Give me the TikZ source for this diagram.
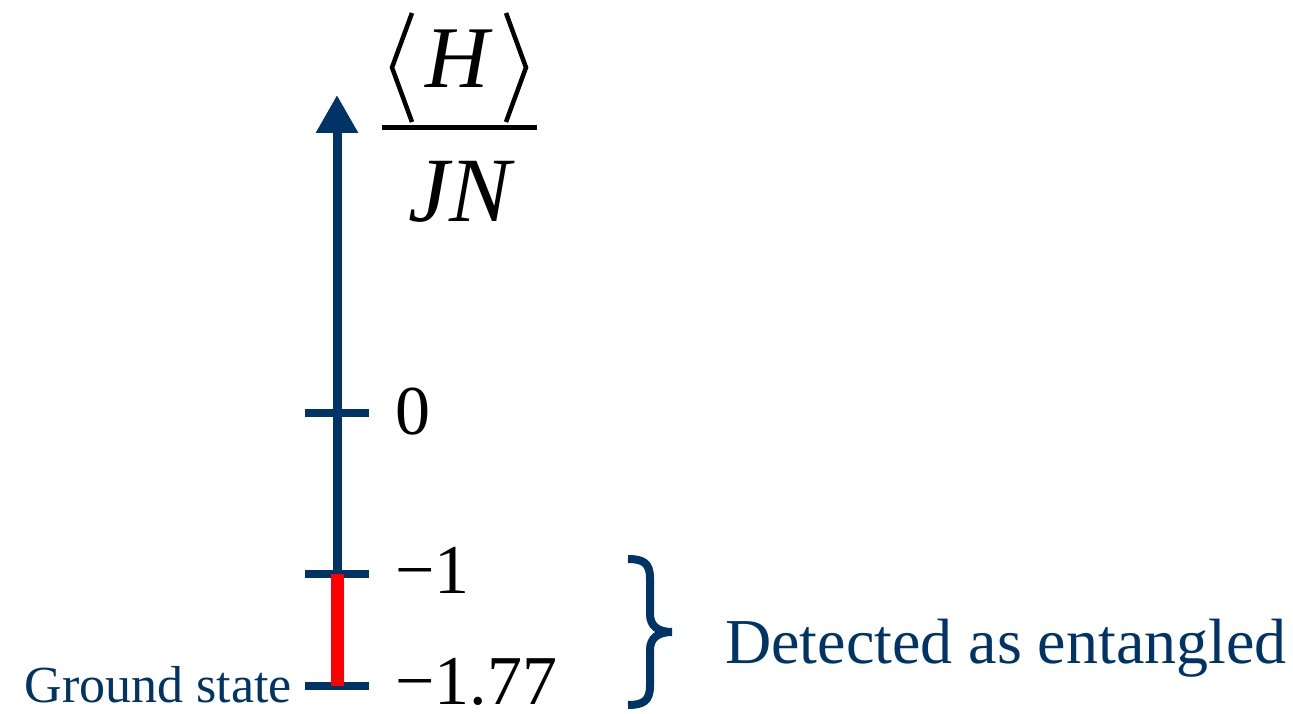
\documentclass[tikz,border=0pt]{standalone}
\usepackage{fontspec}
\setmainfont{Liberation Serif}
\usetikzlibrary{arrows.meta}
\definecolor{navy}{RGB}{0,51,102}
\definecolor{redbar}{RGB}{255,0,0}
\tikzset{
  axisline/.style={navy, line width=9pt, -{Triangle[width=40pt,length=38pt]}},
  tickline/.style={navy, line width=8pt},
  valuelabel/.style={anchor=base west, inner sep=0pt, text depth=0pt, font=\fontsize{70}{70}\selectfont},
  navylabel/.style={inner sep=0pt, text=navy},
  bracket/.style={black, line width=4.5pt, line cap=butt, line join=miter},
}
\begin{document}
\begin{tikzpicture}[x=1pt,y=-1pt]
\useasboundingbox (0,0) rectangle (1293,714);
% axis coordinates
\coordinate (tip) at (337,95);
\coordinate (t0) at (337,413);
\coordinate (t1) at (337,574);
\coordinate (t177) at (337,686);
% axis
\draw[axisline] (t177) -- (tip);
% ticks
\foreach \c in {t0,t1,t177}
  \draw[tickline] ([xshift=-32pt]\c) -- ([xshift=32pt]\c);
% red bar
\draw[redbar, line width=13pt] (t1) -- (t177);
% value labels
\node[valuelabel] (l0) at (395,434) {0};
\node[valuelabel] (l1) at (395,593) {−1};
\node[valuelabel] (l177) at (395,704) {−1.77};
% ground state
\node[navylabel, anchor=base east, font=\fontsize{52}{52}\selectfont] (gs) at (292,702) {Ground state};
% fraction
\node[inner sep=0pt, anchor=base, font=\fontsize{88}{88}\selectfont\itshape] (H) at (457,88) {H};
\node[inner sep=0pt, anchor=base, font=\fontsize{92}{92}\selectfont\itshape] (JN) at (460,222) {JN};
\draw[black, line width=5pt] (382,128) -- (537,128);
\draw[bracket] (412,13) -- (392,67.5) -- (412,122);
\draw[bracket] (506,13) -- (526,67.5) -- (506,122);
% brace
\coordinate (bt) at (628,559);
\coordinate (bm) at (672,632);
\coordinate (bb) at (628,705);
\draw[navy, line width=8pt]
  (bt) .. controls (643,559) and (650,563) .. (650,578)
  -- (650,614) .. controls (650,626) and (658,632) .. (bm)
  .. controls (658,632) and (650,638) .. (650,650)
  -- (650,686) .. controls (650,701) and (643,705) .. (bb);
\node[navylabel, anchor=base west, font=\fontsize{64}{64}\selectfont] (det) at (725,663) {Detected as entangled};
\end{tikzpicture}
\end{document}
